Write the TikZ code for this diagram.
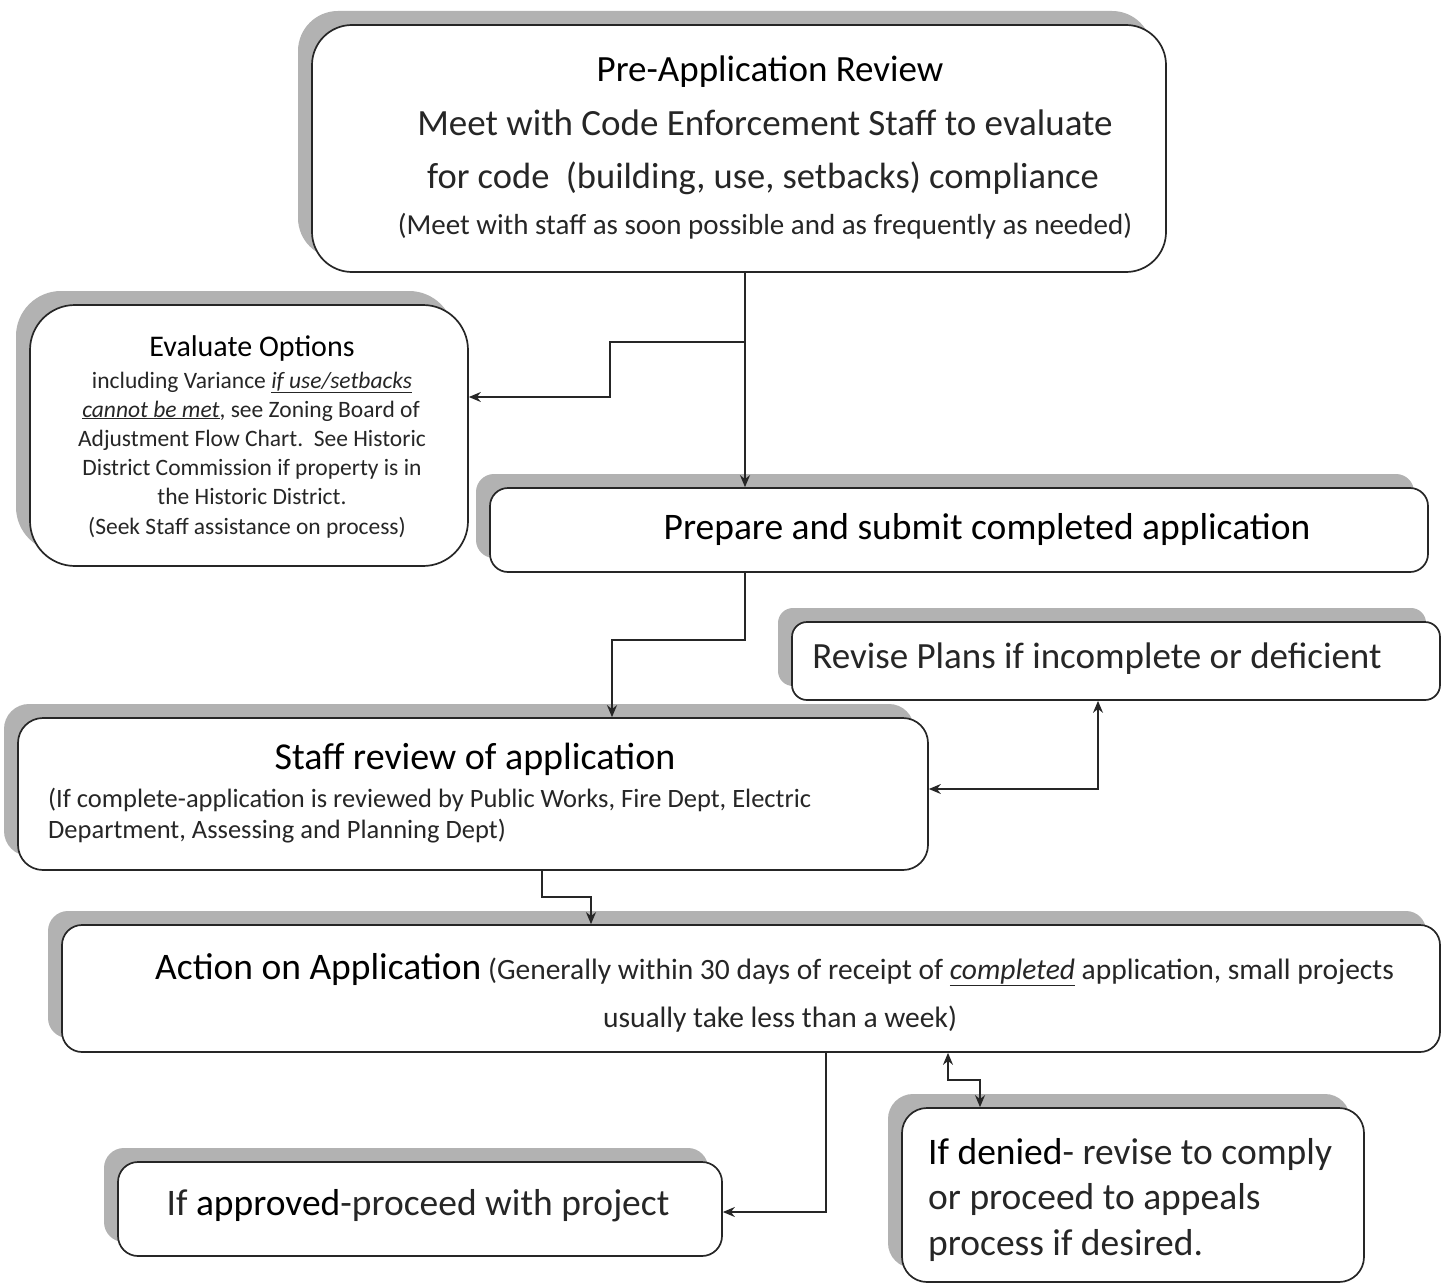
\documentclass[tikz,border=0pt]{standalone}
\usepackage{fontspec}
\setmainfont{Carlito}
\usetikzlibrary{shadows,arrows.meta}
\newcommand\myfs[1]{\fontsize{#1}{#1}\selectfont}
\tikzset{
  box/.style={draw=black!85, line width=1.7pt, fill=white, rounded corners=#1,
    general shadow={shadow xshift=-14pt, shadow yshift=14pt, fill=black!30}},
  box/.default=20pt,
  txt/.style={inner sep=0pt, anchor=base, text=black!85},
  ttl/.style={txt, text=black},
  arr/.style={draw=black!85, line width=1.4pt, -{Stealth[length=12pt,width=10pt]}},
  darr/.style={draw=black!85, line width=1.4pt, {Stealth[length=12pt,width=10pt]}-{Stealth[length=12pt,width=10pt]}},
}
\begin{document}
\begin{tikzpicture}[x=1pt,y=-1pt]
\useasboundingbox (0,0) rectangle (1445,1284);
\fill[white] (0,0) rectangle (1445,1284);

% boxes
\node[box=40pt, minimum width=854pt, minimum height=247pt] (pre) at (739,148.5) {};
\node[box=45pt, minimum width=438pt, minimum height=261pt] (eval) at (249,435.5) {};
\node[box=18pt, minimum width=938pt, minimum height=84pt] (prep) at (959,530) {};
\node[box=15pt, minimum width=648pt, minimum height=78pt] (rev) at (1116,661) {};
\node[box=25pt, minimum width=910pt, minimum height=152pt] (staff) at (473,794) {};
\node[box=20pt, minimum width=1378pt, minimum height=127pt] (action) at (751,988.5) {};
\node[box=20pt, minimum width=604pt, minimum height=94pt] (appr) at (420,1209) {};
\node[box=25pt, minimum width=462pt, minimum height=174pt] (deny) at (1133,1195) {};

% texts
\node[ttl, font=\myfs{37}] (preA) at (770,82) {Pre-Application Review};
\node[txt, font=\myfs{37}] (preB) at (765,136) {Meet with Code Enforcement Staff to evaluate};
\node[txt, font=\myfs{36.5}] (preC) at (763,189) {for code\ \ (building, use, setbacks) compliance};
\node[txt, font=\myfs{29}] (preD) at (765,234) {(Meet with staff as soon possible and as frequently as needed)};

\node[ttl, font=\myfs{30}] (evA) at (252,356) {Evaluate Options};
\node[txt, font=\myfs{23.5}] (evB) at (252,388) {including Variance \underline{\textit{if use/setbacks}}};
\node[txt, font=\myfs{23.5}] (evC) at (251,417) {\underline{\textit{cannot be met}}, see Zoning Board of};
\node[txt, font=\myfs{23.5}] (evD) at (252,446) {Adjustment Flow Chart.\ \ See Historic};
\node[txt, font=\myfs{23.5}] (evE) at (252,475) {District Commission if property is in};
\node[txt, font=\myfs{23.5}] (evF) at (252,504) {the Historic District.};
\node[txt, font=\myfs{23.5}] (evG) at (247,534) {(Seek Staff assistance on process)};

\node[ttl, font=\myfs{37.5}] (prA) at (987,539) {Prepare and submit completed application};
\node[txt, font=\myfs{37}] (rvA) at (1097,668) {Revise Plans if incomplete or deficient};

\node[ttl, font=\myfs{38}] (stA) at (475,769) {Staff review of application};
\node[txt, font=\myfs{26.5}, anchor=base west] (stB) at (48,807) {(If complete-application is reviewed by Public Works, Fire Dept, Electric};
\node[txt, font=\myfs{26.5}, anchor=base west] (stC) at (48,838) {Department, Assessing and Planning Dept)};

\node[txt, font=\myfs{29.5}, anchor=base west] (acA) at (155,979) {{\myfs{37.5}\color{black}Action on Application} (Generally within 30 days of receipt of \underline{\textit{completed}} application, small projects};
\node[txt, font=\myfs{29.5}] (acB) at (780,1027) {usually take less than a week)};

\node[txt, font=\myfs{37.5}] (apA) at (418,1215) {If {\color{black}approved}-proceed with project};

\node[txt, font=\myfs{37.5}, anchor=base west] (dnA) at (928,1164) {{\color{black}If denied}- revise to comply};
\node[txt, font=\myfs{37.5}, anchor=base west] (dnB) at (928,1209) {or proceed to appeals};
\node[txt, font=\myfs{37.5}, anchor=base west] (dnC) at (928,1255) {process if desired.};

% connector points
\coordinate (c1) at (745,342);
\coordinate (c2) at (610,342);
\coordinate (c3) at (610,397);
\coordinate (d1) at (745,640);
\coordinate (d2) at (612,640);
\coordinate (e1) at (1098,789);
\coordinate (f1) at (542,897);
\coordinate (f2) at (591,897);
\coordinate (g1) at (826,1212);
\coordinate (h1) at (948,1080);
\coordinate (h2) at (980,1080);

% connectors
\draw[arr] (c1 |- pre.south) -- (c1 |- prep.north);
\draw[arr] (c1) -- (c2) -- (c3) -- (c3 -| eval.east);
\draw[arr] (d1 |- prep.south) -- (d1) -- (d2) -- (d2 |- staff.north);
\draw[darr] (e1 -| staff.east) -- (e1) -- (e1 |- rev.south);
\draw[arr] (f1 |- staff.south) -- (f1) -- (f2) -- (f2 |- action.north);
\draw[arr] (g1 |- action.south) -- (g1) -- (g1 -| appr.east);
\draw[darr] (h1 |- action.south) -- (h1) -- (h2) -- (h2 |- deny.north);
\end{tikzpicture}
\end{document}
